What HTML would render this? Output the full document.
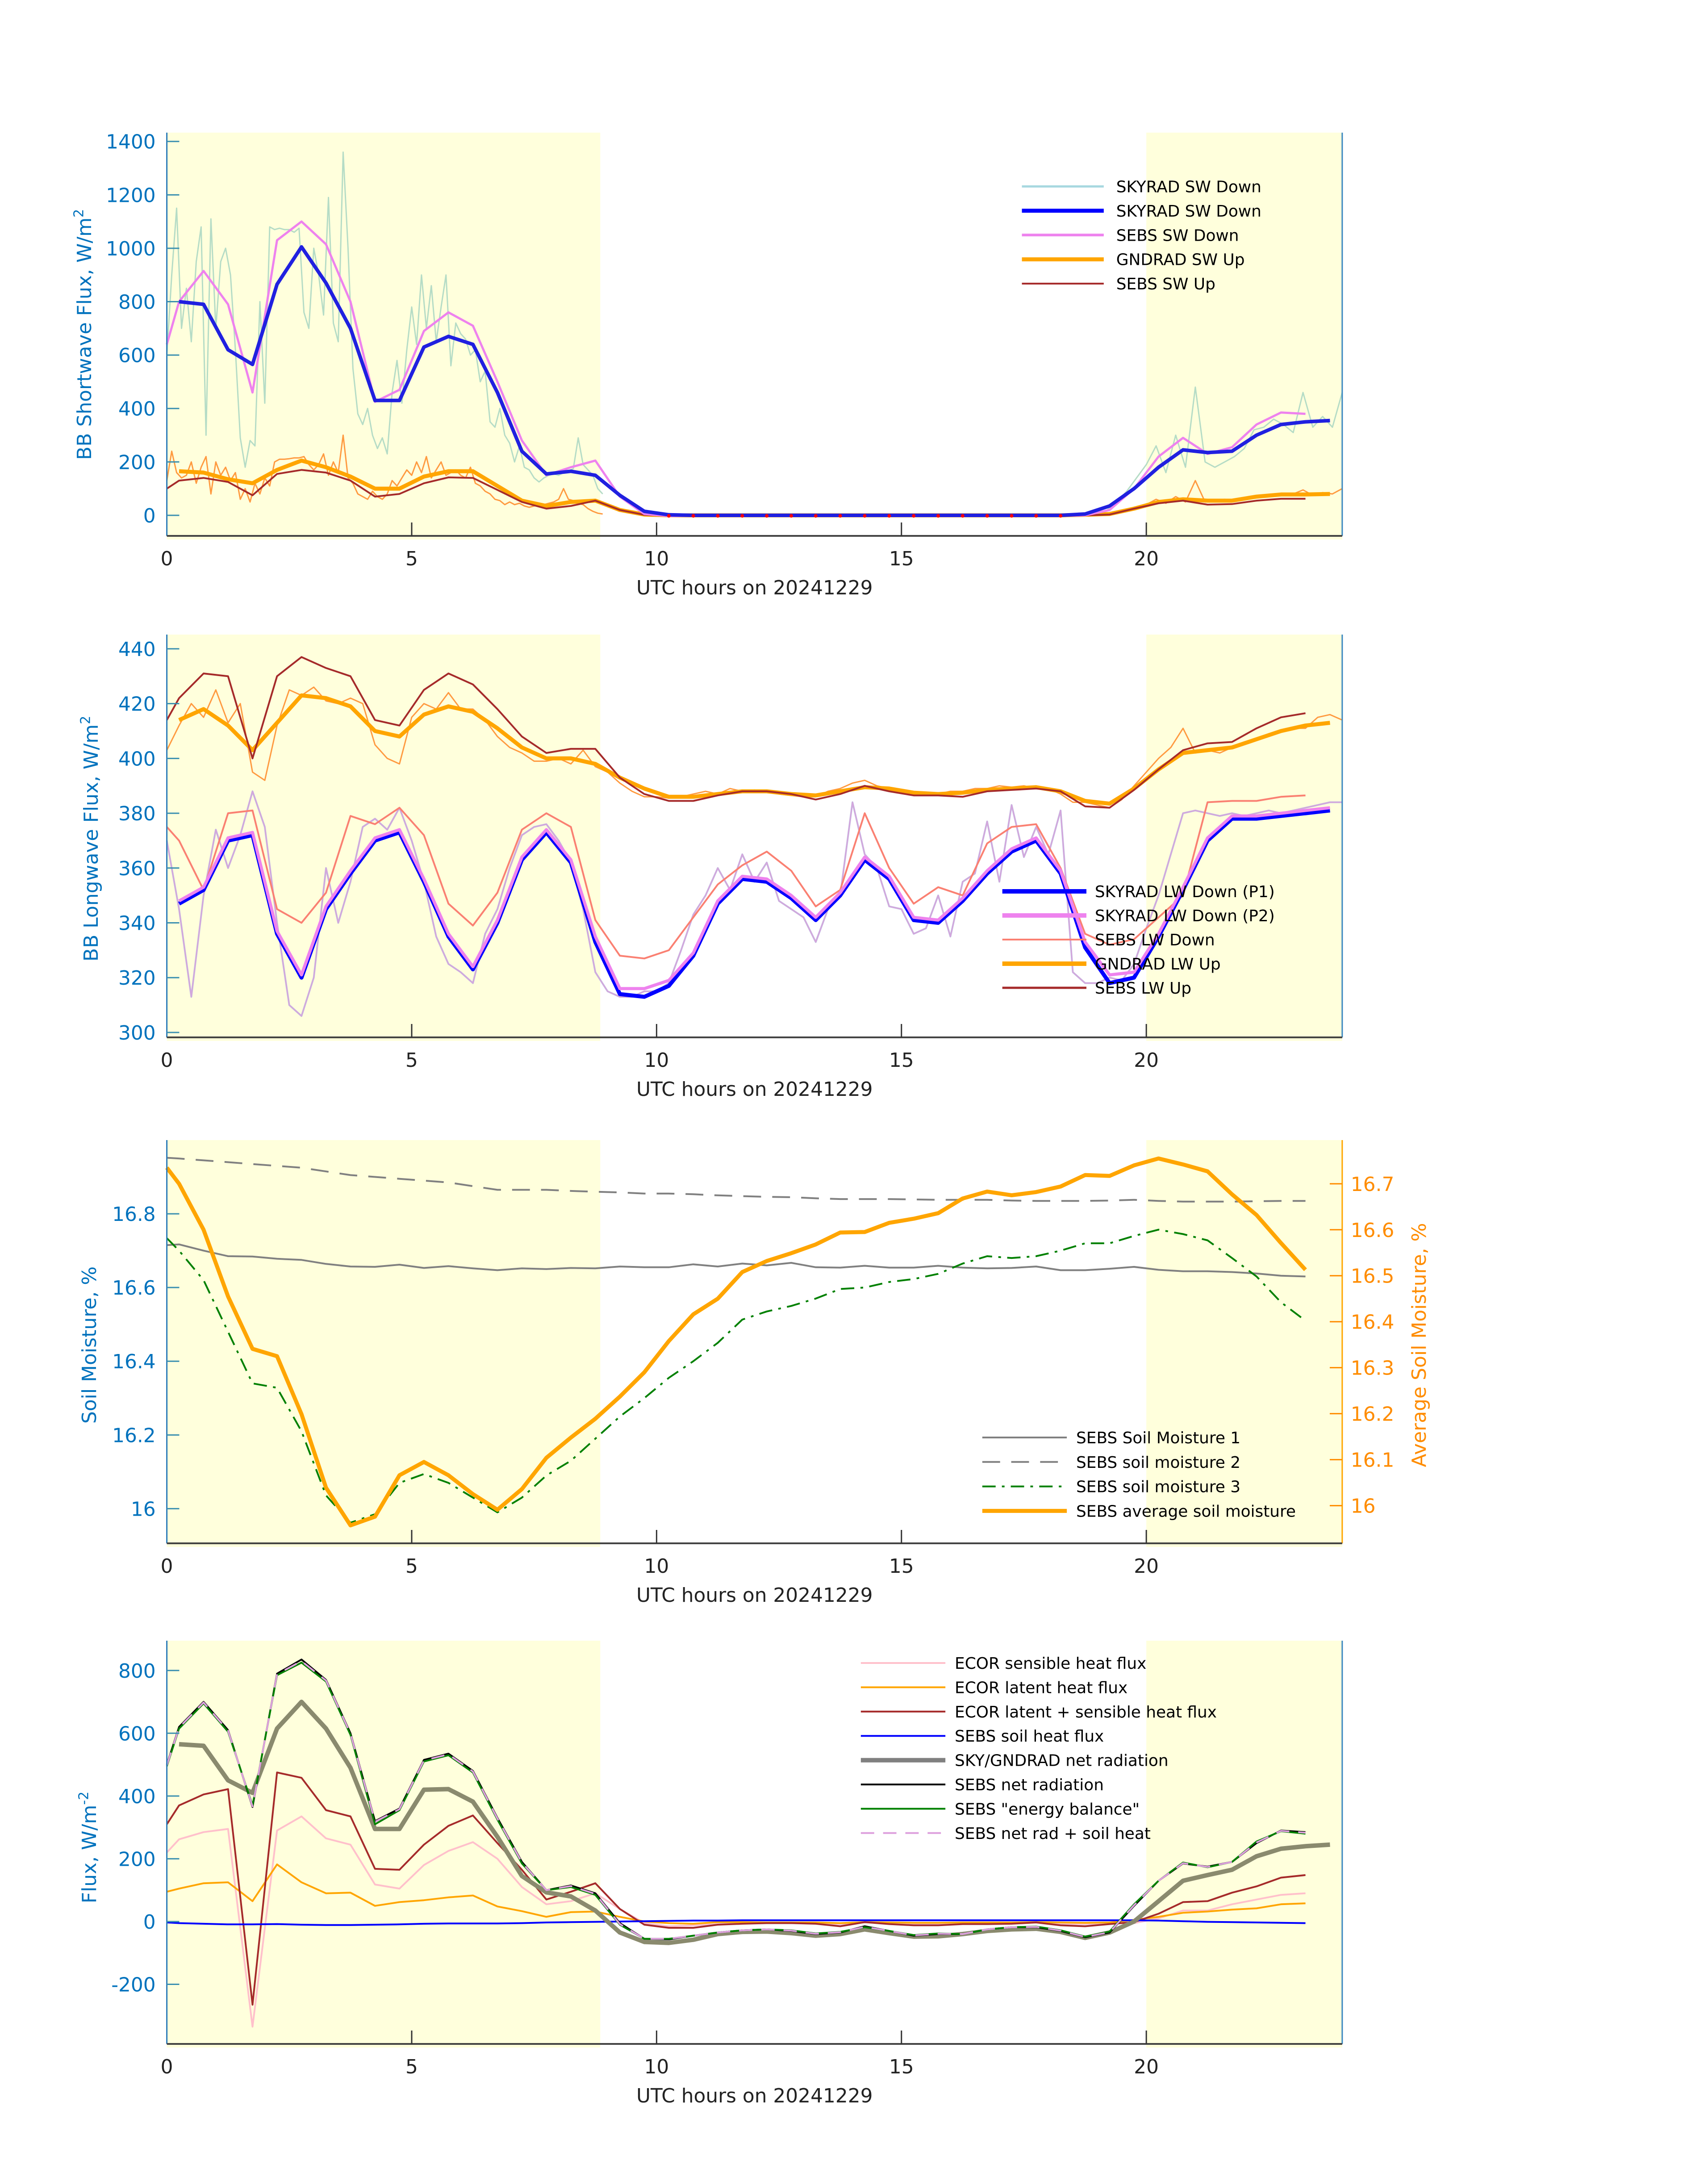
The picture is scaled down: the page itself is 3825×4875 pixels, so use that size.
<!DOCTYPE html>
<html><head><meta charset="utf-8"><style>
html,body{margin:0;padding:0;background:#fff}
svg{display:block}
text{font-family:"DejaVu Sans","Liberation Sans",sans-serif}
</style></head><body>
<svg xmlns="http://www.w3.org/2000/svg" width="3825" height="4875" viewBox="0 0 3825 4875">
<rect x="0" y="0" width="3825" height="4875" fill="#ffffff"/>
<g id="fig" transform="scale(0.9963,1)"></g>
</svg>
<script>
// ---------- shared categories ----------
const hh = [0.25,0.75,1.25,1.75,2.25,2.75,3.25,3.75,4.25,4.75,5.25,5.75,6.25,6.75,7.25,7.75,8.25,8.75,9.25,9.75,10.25,10.75,11.25,11.75,12.25,12.75,13.25,13.75,14.25,14.75,15.25,15.75,16.25,16.75,17.25,17.75,18.25,18.75,19.25,19.75,20.25,20.75,21.25,21.75,22.25,22.75,23.25,23.75];
const xTicks = [0,5,10,15,20];
const nightStart = 8.85;
const dayStart = 20;

// ---------- panel 1: shortwave ----------
const swRawAm = [600,900,1150,700,850,650,950,1080,300,1110,700,950,1000,900,620,290,180,280,260,800,420,1080,1070,1075,1070,1070,1060,1075,760,700,1000,900,750,1190,720,650,1360,1000,550,380,340,400,300,250,290,230,460,580,420,620,780,640,900,700,860,650,780,900,560,720,680,660,600,620,500,540,350,330,400,300,270,200,260,180,170,140,125,140,150,155,150,160,165,175,290,190,170,150,100,80];
const swRawPm = [5,20,50,90,140,190,260,160,300,180,480,200,180,200,220,250,320,330,360,340,310,460,330,370,330,460];
const gUpRawAm = [130,240,160,140,150,200,120,180,220,80,200,150,180,130,160,60,100,50,120,80,140,110,200,210,210,212,215,215,220,190,170,190,230,150,200,160,300,140,120,80,70,60,90,70,60,80,130,110,140,170,150,200,160,220,140,170,200,150,160,170,150,140,180,120,110,90,80,60,55,40,50,40,45,35,30,35,38,40,45,50,60,100,60,55,45,40,25,15,8,5];
const gUpRawPm = [3,5,10,20,30,40,60,45,70,50,130,50,55,60,55,65,70,75,80,75,80,95,75,85,80,100];
const skyradSwDown = [800,790,620,565,865,1005,870,700,430,430,630,670,640,460,240,155,165,150,75,15,2,0,0,0,0,0,0,0,0,0,0,0,0,0,0,0,0,5,35,100,180,245,235,240,300,340,350,355];
const sebsSwDownStart = 640;
const sebsSwDown = [800,915,790,460,1030,1100,1015,800,425,470,690,760,710,500,280,150,180,205,70,5,-3,-2,-2,-2,-2,-2,-2,-2,-2,-2,-2,-2,-2,-2,-2,-2,-2,0,20,100,220,290,230,255,340,385,380];
const gndradSwUp = [165,160,135,120,170,205,180,145,100,100,145,165,165,110,55,35,50,55,20,3,0,0,0,0,0,0,0,0,0,0,0,0,0,0,0,0,0,2,5,25,50,60,55,55,70,78,78,80];
const sebsSwUpStart = 100;
const sebsSwUp = [130,140,125,75,155,170,160,130,70,80,120,142,140,95,50,25,35,55,20,2,-2,-2,-2,-2,-2,-2,-2,-2,-2,-2,-2,-2,-2,-2,-2,-2,-2,0,3,25,45,55,40,42,55,62,62];
const swTicks = [0,200,400,600,800,1000,1200,1400];

// ---------- panel 2: longwave ----------
const lwDownRaw = [370,345,313,350,374,360,372,388,375,340,310,306,320,360,340,355,375,378,374,382,370,355,335,325,322,318,336,345,360,372,375,376,370,362,345,322,315,313,313,315,315,318,330,343,350,360,352,365,355,362,348,345,342,333,345,350,384,365,360,346,345,336,338,350,335,355,358,377,355,383,364,375,365,381,322,318,318,320,319,325,338,350,365,380,381,380,379,380,379,380,381,380,381,382,383,384,384];
const lwUpRaw = [403,412,420,415,425,413,420,395,392,412,425,423,426,421,420,422,420,405,400,398,415,420,418,424,418,418,414,408,404,402,399,399,400,398,403,397,395,391,388,386,386,385.5,386,387,388,387,389,388,388.5,388,387,386.5,386,386,388,389,391,392,390,389,388,387,387.5,387,388,388,389,389,390,389.5,390,389,389,387,384,384,383,382,385,390,395,400,404,411,402,403,402,404,406,407,409,410,411,411,415,416,414];
const lwDownP1 = [347,352,370,372,336,320,345,358,370,373,355,335,323,340,363,373,362,333,314,313,317,328,347,356,355,349,341,350,363,356,341,340,348,358,366,370,358,331,318,320,335,352,370,378,378,379,380,381];
const lwDownP2 = [348,353,371,373,337,321,346,359,371,374,356,336,324,341,364,374,363,335,316,316,319,329,348,357,356,350,342,351,364,357,342,341,349,359,367,371,359,333,321,322,336,353,371,379,379,380,381,382];
const sebsLwDownStart = 375;
const sebsLwDown = [370,352,380,381,345,340,351,379,376,382,372,347,339,351,374,380,375,341,328,327,330,342,354,361,366,359,346,352,380,360,347,353,350,369,375,376,360,336,332,334,342,350,384,384.5,384.5,386,386.5];
const gndradLwUp = [414,418,412,403,413,423,422,419,410,408,416,419,417,411,404,400,400,398,393,389,386,386,387,388,388,387,386.5,388,389.5,389,387.5,387,387.5,388.5,389,389.5,388,384.5,383.5,389,396,402,403,404,407,410,412,413];
const sebsLwUpStart = 414;
const sebsLwUp = [422,431,430,400,430,437,433,430,414,412,425,431,427,418,408,402,403.5,403.5,393,387,384.5,384.5,386.5,388,388,387,385,387,390,388,386.5,386.5,386,388,388.5,389,388,382.5,382,388.5,396,403,405.5,406,411,415,416.5];
const lwTicks = [300,320,340,360,380,400,420,440];

// ---------- panel 3: soil moisture ----------
const sm1Start = 16.715;
const sm1 = [16.717,16.700,16.685,16.684,16.678,16.675,16.664,16.657,16.656,16.662,16.653,16.658,16.652,16.647,16.652,16.650,16.653,16.652,16.657,16.655,16.655,16.663,16.657,16.665,16.660,16.667,16.655,16.654,16.659,16.654,16.654,16.659,16.654,16.652,16.653,16.657,16.647,16.647,16.651,16.656,16.648,16.644,16.644,16.642,16.638,16.632,16.630];
const sm2Start = 16.952;
const sm2 = [16.950,16.945,16.940,16.935,16.930,16.925,16.915,16.905,16.900,16.895,16.890,16.885,16.875,16.865,16.865,16.865,16.862,16.860,16.858,16.855,16.855,16.853,16.850,16.848,16.846,16.845,16.842,16.840,16.840,16.840,16.839,16.838,16.838,16.838,16.836,16.835,16.835,16.835,16.836,16.838,16.835,16.833,16.833,16.833,16.834,16.835,16.835];
const sm3Start = 16.734;
const sm3 = [16.70,16.62,16.48,16.34,16.328,16.21,16.036,15.962,15.985,16.07,16.094,16.07,16.03,15.99,16.03,16.09,16.13,16.19,16.25,16.30,16.355,16.40,16.45,16.513,16.535,16.55,16.57,16.596,16.60,16.615,16.623,16.637,16.665,16.685,16.68,16.685,16.70,16.72,16.72,16.74,16.757,16.745,16.728,16.68,16.63,16.56,16.51];
const smAvgStart = 16.735;
const smAvg = [16.70,16.60,16.455,16.341,16.325,16.199,16.039,15.957,15.976,16.066,16.095,16.066,16.025,15.991,16.036,16.104,16.148,16.189,16.237,16.29,16.358,16.416,16.45,16.508,16.532,16.549,16.568,16.594,16.595,16.615,16.624,16.636,16.668,16.683,16.675,16.682,16.694,16.719,16.717,16.74,16.755,16.742,16.727,16.677,16.632,16.571,16.513];
const smTicks = [16,16.2,16.4,16.6,16.8];
const smTickLabels = ["16","16.2","16.4","16.6","16.8"];
const smAvgTicks = [16,16.1,16.2,16.3,16.4,16.5,16.6,16.7];
const smAvgTickLabels = ["16","16.1","16.2","16.3","16.4","16.5","16.6","16.7"];

// ---------- panel 4: energy fluxes ----------
const netRadSebsStart = 500;
const netRadSebs = [620,700,610,365,790,835,770,600,320,360,515,535,480,330,190,100,115,90,-5,-55,-57,-45,-35,-28,-25,-30,-40,-35,-15,-30,-45,-40,-40,-25,-18,-18,-30,-50,-35,50,130,185,175,190,250,290,285];
const energyBalStart = 495;
const energyBal = [615,695,605,370,785,825,765,595,310,355,510,530,475,325,185,100,110,85,-10,-55,-55,-45,-35,-28,-25,-28,-38,-33,-18,-30,-43,-38,-40,-25,-18,-16,-28,-48,-32,55,130,188,173,190,255,288,280];
const netRadSoilStart = 498;
const netRadSoil = [618,698,608,367,788,830,768,598,318,358,513,533,478,328,188,100,113,88,-8,-55,-55,-45,-35,-28,-25,-29,-39,-34,-17,-30,-44,-39,-40,-25,-18,-17,-29,-49,-34,52,130,186,174,190,252,289,283];
const netRadSky = [565,560,450,410,615,700,615,490,295,295,420,422,382,270,145,93,80,35,-35,-65,-68,-58,-40,-33,-32,-37,-45,-40,-25,-37,-48,-47,-40,-30,-25,-23,-33,-52,-35,0,65,130,148,165,208,232,240,245];
const ecorLatSensStart = 310;
const ecorLatSens = [370,405,422,-265,475,458,355,335,168,165,245,305,338,250,165,70,95,122,40,-10,-20,-20,-10,-7,-5,-5,-7,-15,-2,-8,-12,-12,-8,-8,-7,-3,-12,-15,-8,-2,25,62,65,92,112,140,148];
const ecorSensStart = 220;
const ecorSens = [262,285,295,-335,290,335,265,245,118,105,180,225,253,200,110,55,65,90,40,-5,-15,-12,-8,-5,-5,-5,-5,-8,-3,-5,-7,-7,-5,-5,-5,-3,-7,-8,-5,-5,10,35,35,55,70,85,90];
const ecorLatStart = 95;
const ecorLat = [105,122,125,65,182,125,90,92,50,62,68,77,83,48,33,15,30,32,15,0,-5,-7,-2,-2,-3,-3,-3,-5,-2,-3,-4,-4,-3,-3,-3,-2,-3,-4,-3,5,15,28,32,38,42,55,58];
const sebsSoilStart = -3;
const sebsSoil = [-5,-7,-9,-9,-8,-10,-11,-11,-10,-9,-7,-6,-6,-6,-5,-3,-2,-1,0,1,2,3,3,4,4,4,4,4,4,4,4,4,4,4,4,4,4,4,4,4,3,1,-1,-2,-3,-4,-5];
const fluxTicks = [-200,0,200,400,600,800];

// ---------- drawing ----------
const NS = "http://www.w3.org/2000/svg";
const svg = document.getElementById('fig');
const XL = 375, XR = 3017;
function X(h){ return XL + (XR - XL) * h / 24; }
function mk(tag, parent){ const e = document.createElementNS(NS, tag); parent.appendChild(e); return e; }
function withStart(start, vals){ return start === null ? vals.slice() : [start].concat(vals); }
function timesFor(start, vals){ const t = hh.slice(0, vals.length); return start === null ? t : [0].concat(t); }
function gridTimes(t0, step, n){ const t = []; for (let i = 0; i < n; i++) t.push(t0 + i * step); return t; }

function makeAxis(T, B, ymin, ymax){ return v => B - (v - ymin) / (ymax - ymin) * (B - T); }

function drawLine(g, ts, vs, Y, color, w, dash, name){
  let d = '';
  for (let i = 0; i < ts.length; i++) d += (i ? 'L' : 'M') + X(ts[i]).toFixed(1) + ',' + Y(vs[i]).toFixed(1);
  const p = mk('path', g);
  p.setAttribute('d', d);
  p.setAttribute('fill', 'none');
  p.setAttribute('stroke', color);
  p.setAttribute('stroke-width', w);
  p.setAttribute('stroke-linejoin', 'round');
  if (dash) p.setAttribute('stroke-dasharray', dash);
  
  
  return p;
}

function frame(g, T, B, name){
  const s1 = mk('rect', g);
  s1.setAttribute('x', X(0)); s1.setAttribute('y', T); s1.setAttribute('width', X(nightStart) - X(0)); s1.setAttribute('height', B - T + 8); s1.setAttribute('fill', '#ffffdc');
  
  
  const s2 = mk('rect', g);
  s2.setAttribute('x', X(dayStart)); s2.setAttribute('y', T); s2.setAttribute('width', X(24) - X(dayStart)); s2.setAttribute('height', B - T + 8); s2.setAttribute('fill', '#ffffdc');
  
  
}

function axes(g, T, B, Y, ticks, labels, name, rightColor){
  const left = mk('line', g);
  left.setAttribute('x1', XL); left.setAttribute('x2', XL); left.setAttribute('y1', T); left.setAttribute('y2', B);
  left.setAttribute('stroke', '#2a7ab8'); left.setAttribute('stroke-width', 3);
  
  
  const right = mk('line', g);
  right.setAttribute('x1', XR); right.setAttribute('x2', XR); right.setAttribute('y1', T); right.setAttribute('y2', B);
  right.setAttribute('stroke', rightColor || '#3a88c0'); right.setAttribute('stroke-width', 3);
  
  
  const bot = mk('line', g);
  bot.setAttribute('x1', XL); bot.setAttribute('x2', XR); bot.setAttribute('y1', B); bot.setAttribute('y2', B);
  bot.setAttribute('stroke', '#444'); bot.setAttribute('stroke-width', 4);
  
  
  ticks.forEach((v, i) => {
    const y = Y(v);
    const tk = mk('line', g);
    tk.setAttribute('x1', XL); tk.setAttribute('x2', XL + 28); tk.setAttribute('y1', y); tk.setAttribute('y2', y);
    tk.setAttribute('stroke', '#3a8fb0'); tk.setAttribute('stroke-width', 3);
    
    
    const tl = mk('text', g);
    tl.setAttribute('x', 350); tl.setAttribute('y', y + 16); tl.setAttribute('text-anchor', 'end');
    tl.setAttribute('font-size', 44); tl.setAttribute('fill', '#0072bd');
    tl.textContent = labels ? labels[i] : String(v);
    
    
  });
  xTicks.forEach(h => {
    if (h > 0) {
      const tk = mk('line', g);
      tk.setAttribute('x1', X(h)); tk.setAttribute('x2', X(h)); tk.setAttribute('y1', B); tk.setAttribute('y2', B - 30);
      tk.setAttribute('stroke', '#333'); tk.setAttribute('stroke-width', 3);
      
      
    }
    const tl = mk('text', g);
    tl.setAttribute('x', X(h)); tl.setAttribute('y', B + 66); tl.setAttribute('text-anchor', 'middle');
    tl.setAttribute('font-size', 44); tl.setAttribute('fill', '#222');
    tl.textContent = String(h);
    
    
  });
  const xl = mk('text', g);
  xl.setAttribute('x', (XL + XR) / 2); xl.setAttribute('y', B + 131); xl.setAttribute('text-anchor', 'middle');
  xl.setAttribute('font-size', 44); xl.setAttribute('fill', '#222');
  xl.textContent = 'UTC hours on 20241229';
  
  
}

function yTitle(g, cx, cy, html, color, name){
  const t = mk('text', g);
  t.setAttribute('transform', 'translate(' + cx + ',' + cy + ') rotate(-90)');
  t.setAttribute('text-anchor', 'middle');
  t.setAttribute('font-size', 44); t.setAttribute('fill', color);
  t.innerHTML = html;
  
  
}

function legend(g, x1, x2, tx, y0, dy, entries, name){
  entries.forEach((e, i) => {
    const y = y0 + i * dy;
    const l = mk('line', g);
    l.setAttribute('x1', x1); l.setAttribute('x2', x2); l.setAttribute('y1', y); l.setAttribute('y2', y);
    l.setAttribute('stroke', e[1]); l.setAttribute('stroke-width', e[2]);
    if (e[3]) l.setAttribute('stroke-dasharray', e[3]);
    
    
    const t = mk('text', g);
    t.setAttribute('x', tx); t.setAttribute('y', y + 13);
    t.setAttribute('font-size', 36); t.setAttribute('fill', '#000');
    t.textContent = e[0];
    
    
  });
}

// ===== Panel 1 =====
(function(){
  const T = 297, B = 1200;
  const Y = makeAxis(T, B, -77, 1433);
  const g = mk('g', svg);
  
  
  frame(g, T, B, 'shortwave');
  drawLine(g, gridTimes(0, 0.1, swRawAm.length), swRawAm, Y, '#b5dcc6', 3, null, 'skyrad-sw-down-raw-am');
  drawLine(g, gridTimes(19, 0.2, swRawPm.length), swRawPm, Y, '#b5dcc6', 3, null, 'skyrad-sw-down-raw-pm');
  drawLine(g, gridTimes(0, 0.1, gUpRawAm.length), gUpRawAm, Y, '#ff9a40', 3, null, 'gndrad-sw-up-raw-am');
  drawLine(g, gridTimes(19, 0.2, gUpRawPm.length), gUpRawPm, Y, '#ff9a40', 3, null, 'gndrad-sw-up-raw-pm');
  drawLine(g, timesFor(null, gndradSwUp), gndradSwUp, Y, '#ffa500', 9, null, 'gndrad-sw-up-line');
  drawLine(g, timesFor(sebsSwUpStart, sebsSwUp), withStart(sebsSwUpStart, sebsSwUp), Y, '#a52a2a', 4, null, 'sebs-sw-up-line');
  drawLine(g, timesFor(sebsSwDownStart, sebsSwDown), withStart(sebsSwDownStart, sebsSwDown), Y, '#ee82ee', 5, null, 'sebs-sw-down-line');
  drawLine(g, timesFor(null, skyradSwDown), skyradSwDown, Y, '#2020e0', 8, null, 'skyrad-sw-down-line');
  hh.slice(20, 37).forEach((h, i) => {
    const c = mk('circle', g);
    c.setAttribute('cx', X(h)); c.setAttribute('cy', Y(sebsSwUp[20 + i])); c.setAttribute('r', 4); c.setAttribute('fill', '#ff0000');
    
    
  });
  axes(g, T, B, Y, swTicks, null, 'shortwave');
  yTitle(g, 205, 749, 'BB Shortwave Flux, W/m<tspan dy="-18" font-size="30">2</tspan>', '#0072bd', 'shortwave-y-axis-title');
  legend(g, 2297, 2481, 2509, 417.5, 54.4, [
    ['SKYRAD SW Down', '#a8d8e0', 5], ['SKYRAD SW Down', '#0000ff', 9], ['SEBS SW Down', '#ee82ee', 6],
    ['GNDRAD SW Up', '#ffa500', 9], ['SEBS SW Up', '#a52a2a', 4]], 'shortwave-legend');
})();

// ===== Panel 2 =====
(function(){
  const T = 1421, B = 2323;
  const Y = makeAxis(T, B, 298.2, 445.2);
  const g = mk('g', svg);
  
  
  frame(g, T, B, 'longwave');
  drawLine(g, gridTimes(0, 0.25, lwDownRaw.length), lwDownRaw, Y, '#b8c8e6', 4, null, 'skyrad-lw-down-raw');
  drawLine(g, gridTimes(0, 0.25, lwDownRaw.length), lwDownRaw, Y, '#d4a6dc', 3, null, 'skyrad-lw-down-raw-p2');
  drawLine(g, gridTimes(0, 0.25, lwUpRaw.length), lwUpRaw, Y, '#ff9a40', 3, null, 'gndrad-lw-up-raw');
  drawLine(g, timesFor(sebsLwDownStart, sebsLwDown), withStart(sebsLwDownStart, sebsLwDown), Y, '#fa8072', 4, null, 'sebs-lw-down-line');
  drawLine(g, timesFor(null, gndradLwUp), gndradLwUp, Y, '#ffa500', 9, null, 'gndrad-lw-up-line');
  drawLine(g, timesFor(sebsLwUpStart, sebsLwUp), withStart(sebsLwUpStart, sebsLwUp), Y, '#a52a2a', 4, null, 'sebs-lw-up-line');
  drawLine(g, timesFor(null, lwDownP1), lwDownP1, Y, '#0000ff', 9, null, 'skyrad-lw-down-p1-line');
  drawLine(g, timesFor(null, lwDownP2), lwDownP2, Y, '#ee82ee', 7, null, 'skyrad-lw-down-p2-line');
  axes(g, T, B, Y, lwTicks, null, 'longwave');
  yTitle(g, 220, 1878, 'BB Longwave Flux, W/m<tspan dy="-18" font-size="30">2</tspan>', '#0072bd', 'longwave-y-axis-title');
  legend(g, 2253, 2442, 2461, 1996, 54, [
    ['SKYRAD LW Down (P1)', '#0000ff', 10], ['SKYRAD LW Down (P2)', '#ee82ee', 10], ['SEBS LW Down', '#fa8072', 4],
    ['GNDRAD LW Up', '#ffa500', 10], ['SEBS LW Up', '#a52a2a', 5]], 'longwave-legend');
})();

// ===== Panel 3 =====
(function(){
  const T = 2553, B = 3456;
  const Y = makeAxis(T, B, 15.906, 17.0);
  const Y2 = makeAxis(T, B, 15.918, 16.795);
  const g = mk('g', svg);
  
  
  frame(g, T, B, 'soil');
  drawLine(g, timesFor(sm1Start, sm1), withStart(sm1Start, sm1), Y, '#808080', 4, null, 'sebs-soil-moisture-1-line');
  drawLine(g, timesFor(sm2Start, sm2), withStart(sm2Start, sm2), Y, '#808080', 4, '40,25', 'sebs-soil-moisture-2-line');
  drawLine(g, timesFor(sm3Start, sm3), withStart(sm3Start, sm3), Y, '#008000', 4, '30,14,6,14', 'sebs-soil-moisture-3-line');
  drawLine(g, timesFor(smAvgStart, smAvg), withStart(smAvgStart, smAvg), Y2, '#ffa500', 9, null, 'sebs-average-soil-moisture-line');
  axes(g, T, B, Y, smTicks, smTickLabels, 'soil', '#ffa500');
  smAvgTicks.forEach((v, i) => {
    const y = Y2(v);
    const tk = mk('line', g);
    tk.setAttribute('x1', XR - 28); tk.setAttribute('x2', XR); tk.setAttribute('y1', y); tk.setAttribute('y2', y);
    tk.setAttribute('stroke', '#ff8c00'); tk.setAttribute('stroke-width', 3);
    
    
    const tl = mk('text', g);
    tl.setAttribute('x', 3036); tl.setAttribute('y', y + 16);
    tl.setAttribute('font-size', 44); tl.setAttribute('fill', '#ff8c00');
    tl.textContent = smAvgTickLabels[i];
    
    
  });
  yTitle(g, 216, 3012, 'Soil Moisture, %', '#0072bd', 'soil-y-axis-title');
  yTitle(g, 3205, 3012, 'Average Soil Moisture, %', '#ff8c00', 'soil-right-y-axis-title');
  legend(g, 2208, 2398, 2419, 3219, 54.8, [
    ['SEBS Soil Moisture 1', '#808080', 4], ['SEBS soil moisture 2', '#808080', 4, '40,25'],
    ['SEBS soil moisture 3', '#008000', 4, '30,14,6,14'], ['SEBS average soil moisture', '#ffa500', 9]], 'soil-legend');
})();

// ===== Panel 4 =====
(function(){
  const T = 3674, B = 4577;
  const Y = makeAxis(T, B, -390, 895);
  const g = mk('g', svg);
  
  
  frame(g, T, B, 'flux');
  drawLine(g, timesFor(ecorSensStart, ecorSens), withStart(ecorSensStart, ecorSens), Y, '#ffc0cb', 4, null, 'ecor-sensible-heat-flux-line');
  drawLine(g, timesFor(ecorLatStart, ecorLat), withStart(ecorLatStart, ecorLat), Y, '#ffa500', 4, null, 'ecor-latent-heat-flux-line');
  drawLine(g, timesFor(ecorLatSensStart, ecorLatSens), withStart(ecorLatSensStart, ecorLatSens), Y, '#a52a2a', 4, null, 'ecor-latent-sensible-line');
  drawLine(g, timesFor(sebsSoilStart, sebsSoil), withStart(sebsSoilStart, sebsSoil), Y, '#0000ff', 4, null, 'sebs-soil-heat-flux-line');
  drawLine(g, timesFor(null, netRadSky), netRadSky, Y, '#8a8a6e', 10, null, 'sky-gndrad-net-radiation-line');
  drawLine(g, timesFor(netRadSebsStart, netRadSebs), withStart(netRadSebsStart, netRadSebs), Y, '#000000', 4, null, 'sebs-net-radiation-line');
  drawLine(g, timesFor(energyBalStart, energyBal), withStart(energyBalStart, energyBal), Y, '#008000', 4, null, 'sebs-energy-balance-line');
  drawLine(g, timesFor(netRadSoilStart, netRadSoil), withStart(netRadSoilStart, netRadSoil), Y, '#dda0dd', 4, '30,20', 'sebs-net-rad-soil-heat-line');
  axes(g, T, B, Y, fluxTicks, null, 'flux');
  yTitle(g, 216, 4137, 'Flux, W/m<tspan dy="-18" font-size="30">-2</tspan>', '#0072bd', 'flux-y-axis-title');
  legend(g, 1935, 2125, 2146, 3724, 54.4, [
    ['ECOR sensible heat flux', '#ffc0cb', 4], ['ECOR latent heat flux', '#ffa500', 4], ['ECOR latent + sensible heat flux', '#a52a2a', 4],
    ['SEBS soil heat flux', '#0000ff', 4], ['SKY/GNDRAD net radiation', '#808080', 10], ['SEBS net radiation', '#000000', 4],
    ['SEBS "energy balance"', '#008000', 4], ['SEBS net rad + soil heat', '#dda0dd', 4, '30,20']], 'flux-legend');
})();
</script>
</body></html>
